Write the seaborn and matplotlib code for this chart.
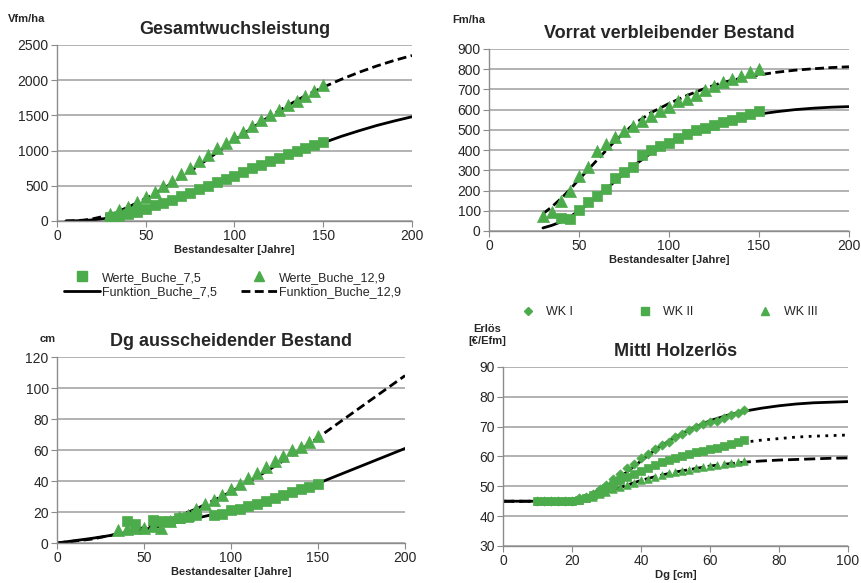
import seaborn as sns
import matplotlib.pyplot as plt
import matplotlib.lines as mlines
import pandas as pd
import numpy as np

# ---- data ----
alter_pts = list(range(30, 155, 5))

# Gesamtwuchsleistung [Vfm/ha]
gwl_75 = [50, 70, 100, 130, 170, 220, 260, 300, 350, 400, 450, 500, 550,
          600, 640, 700, 750, 800, 850, 900, 950, 990, 1040, 1080, 1120]
gwl_129 = [100, 150, 200, 270, 340, 410, 490, 570, 660, 750, 850, 940, 1030,
           1110, 1190, 1270, 1350, 1430, 1500, 1570, 1640, 1710, 1780, 1850, 1930]
gwl_f_alter = [5, 10, 15, 20, 25, 30, 35, 40, 50, 60, 70, 80, 90, 100, 110,
               120, 130, 140, 150, 160, 170, 180, 190, 200]
gwl_f_75 = [0, 2, 7, 15, 28, 45, 68, 95, 165, 250, 340, 440, 540, 640, 740,
            840, 930, 1020, 1110, 1200, 1280, 1355, 1420, 1480]
gwl_f_129 = [0, 3, 12, 30, 58, 95, 142, 195, 320, 460, 620, 790, 970, 1150,
             1320, 1490, 1640, 1780, 1900, 2010, 2110, 2200, 2280, 2350]

# Vorrat verbleibender Bestand [Fm/ha]
vor_75_alter = list(range(40, 155, 5))
vor_75 = [65, 60, 104, 142, 173, 206, 264, 294, 315, 376, 398, 418, 437, 459,
          480, 497, 508, 525, 538, 550, 563, 578, 594]
vor_129 = [74, 96, 149, 200, 274, 314, 396, 431, 467, 492, 520, 546, 570, 591,
           613, 641, 655, 674, 697, 715, 735, 751, 768, 784, 801]
vor_f_alter = [30, 35, 40, 45, 50, 55, 60, 70, 80, 90, 100, 110, 120, 130,
               140, 150, 160, 170, 180, 190, 200]
vor_f_75 = [15, 28, 45, 70, 100, 133, 170, 245, 320, 385, 435, 475, 510, 540,
            560, 578, 590, 600, 607, 612, 615]
vor_f_129 = [85, 120, 160, 205, 255, 302, 350, 445, 525, 585, 630, 670, 705,
             735, 755, 772, 785, 795, 802, 808, 812]

# Dg ausscheidender Bestand [cm]
dg_75_alter = [40, 45, 55, 60, 65, 70, 75, 80, 90, 95, 100, 105, 110, 115,
               120, 125, 130, 135, 140, 145, 150]
dg_75 = [14, 12, 15, 14.5, 14, 16, 17, 18, 18, 19, 21, 22, 24, 25, 27, 29, 31,
         33, 35, 36, 38]
dg_129_alter = list(range(35, 155, 5))
dg_129 = [8.6, 9, 9.5, 10, 11, 10, 14, 17, 18, 22, 25, 28, 31, 35, 38, 42, 45,
          49, 53, 56, 60, 62, 65, 69]
dg_f_alter = [0, 20, 40, 60, 80, 100, 120, 140, 150, 160, 170, 180, 190, 200]
dg_f_75 = [0, 3, 6.5, 11, 16, 21, 28, 35, 38.5, 43, 47.5, 52, 56.5, 61]
dg_f_129 = [0, 2.5, 7, 13, 22, 33, 46, 60, 68, 76, 84, 92, 100, 108]

# Mittl Holzerlös [EUR/Efm]
dg_pts = list(range(10, 72, 2))
wk1 = [45, 45, 45, 45, 45, 45, 46, 46.5, 47.5, 49, 50.5, 52.5, 54, 56, 57.5,
       59.5, 61, 62.5, 64, 65, 66.5, 67.5, 69, 70, 71, 71.5, 72, 73, 74, 74.5, 75.5]
wk2 = [45, 45, 45, 45, 45, 45, 45.5, 46, 47, 48, 49.5, 50.5, 52, 53, 54, 55,
       56, 57, 58, 58.8, 59.5, 60, 60.8, 61.5, 62, 62.5, 63, 63.5, 64.2, 64.8, 65.5]
wk3 = [45, 45, 45, 45, 45, 45, 45.3, 46, 46.5, 47.3, 48, 49, 49.8, 50.5, 51.2,
       52, 52.5, 53.2, 53.8, 54.3, 54.8, 55.2, 55.6, 56, 56.4, 56.8, 57.1, 57.4,
       57.7, 58, 58.4]
erl_f_dg = [0, 10, 15, 20, 25, 30, 35, 40, 45, 50, 55, 60, 65, 70, 75, 80, 85,
            90, 95, 100]
erl_f_1 = [45, 45, 45.1, 45.5, 47, 50, 54, 58.5, 63, 66.5, 69.5, 72, 73.8,
           75.2, 76.2, 77, 77.6, 78, 78.2, 78.4]
erl_f_2 = [45, 45, 45.1, 45.3, 46.5, 49, 52, 55, 57.5, 59.5, 61, 62.5, 63.7,
           64.8, 65.5, 66, 66.5, 66.8, 67, 67.2]
erl_f_3 = [45, 45, 45.05, 45.2, 46, 48, 50, 52, 53.5, 54.8, 55.8, 56.8, 57.5,
           58.1, 58.5, 58.8, 59, 59.2, 59.4, 59.5]

# ---- style ----
sns.set_style("white")
plt.rcParams['font.family'] = ['Liberation Sans', 'DejaVu Sans']
green = "#4cab4a"
grid_c = "#a6a6a6"
spine_c = "#8c8c8c"
dash = (3.2, 1.6)

fig = plt.figure(figsize=(8.61, 5.83), dpi=100)
ax1 = fig.add_axes([0.0662, 0.621, 0.4123, 0.3019])
ax2 = fig.add_axes([0.5679, 0.6038, 0.4181, 0.3122])
ax3 = fig.add_axes([0.0662, 0.0686, 0.4042, 0.319])
ax4 = fig.add_axes([0.5842, 0.0635, 0.4007, 0.307])


def style_axis(ax, xlim, ylim, yticks, xticks, title, xlabel):
    ax.set_xlim(*xlim)
    ax.set_ylim(*ylim)
    ax.set_yticks(yticks)
    ax.set_xticks(xticks)
    ax.yaxis.grid(True, color=grid_c, lw=1.2)
    ax.xaxis.grid(False)
    ax.set_axisbelow(True)
    for s in ["top", "right"]:
        ax.spines[s].set_visible(False)
    for s in ["left", "bottom"]:
        ax.spines[s].set_color(spine_c)
        ax.spines[s].set_linewidth(1.0)
    ax.tick_params(axis="both", length=4, color=spine_c, labelsize=10,
                   direction="out", left=True, bottom=True, pad=2)
    ax.set_title(title, fontsize=13, fontweight="bold", pad=8)
    ax.set_xlabel(xlabel, fontsize=8, fontweight="bold", labelpad=1)
    ax.set_ylabel("")


def curve(ax, x, y, **kw):
    sns.lineplot(x=x, y=y, ax=ax, color="black", lw=2, legend=False, **kw)


def points(ax, x, y, marker, size):
    sns.scatterplot(x=x, y=y, ax=ax, color=green, marker=marker, s=size,
                    edgecolor=green, linewidth=0.5, zorder=3, legend=False)


# Panel 1
points(ax1, alter_pts, gwl_75, "s", 62)
points(ax1, alter_pts, gwl_129, "^", 75)
curve(ax1, gwl_f_alter, gwl_f_75)
curve(ax1, gwl_f_alter, gwl_f_129, dashes=dash)
style_axis(ax1, (0, 200), (0, 2500), range(0, 2501, 500), range(0, 201, 50),
           "Gesamtwuchsleistung", "Bestandesalter [Jahre]")
fig.text(0.009, 0.968, "Vfm/ha", fontsize=8, fontweight="bold", va="center")

h_sq = mlines.Line2D([], [], color=green, marker="s", ls="none", ms=7)
h_tri = mlines.Line2D([], [], color=green, marker="^", ls="none", ms=7.5)
h_l1 = mlines.Line2D([], [], color="black", lw=2)
h_l2 = mlines.Line2D([], [], color="black", lw=2, dashes=dash)
fig.legend([h_sq, h_l1, h_tri, h_l2],
           ["Werte_Buche_7,5", "Funktion_Buche_7,5",
            "Werte_Buche_12,9", "Funktion_Buche_12,9"],
           ncol=2, loc="center", bbox_to_anchor=(0.270, 0.511), frameon=False,
           fontsize=9, handlelength=2.9, handletextpad=0.15, columnspacing=1.9,
           labelspacing=0.2, borderpad=0)

# Panel 2
points(ax2, vor_75_alter, vor_75, "s", 62)
points(ax2, alter_pts, vor_129, "^", 75)
curve(ax2, vor_f_alter, vor_f_75)
curve(ax2, vor_f_alter, vor_f_129, dashes=dash)
style_axis(ax2, (0, 200), (0, 900), range(0, 901, 100), range(0, 201, 50),
           "Vorrat verbleibender Bestand", "Bestandesalter [Jahre]")
fig.text(0.525, 0.965, "Fm/ha", fontsize=8, fontweight="bold", va="center")

# Panel 3
points(ax3, dg_75_alter, dg_75, "s", 62)
points(ax3, dg_129_alter, dg_129, "^", 75)
curve(ax3, dg_f_alter, dg_f_75)
curve(ax3, dg_f_alter, dg_f_129, dashes=dash)
style_axis(ax3, (0, 200), (0, 120), range(0, 121, 20), range(0, 201, 50),
           "Dg ausscheidender Bestand", "Bestandesalter [Jahre]")
fig.text(0.046, 0.418, "cm", fontsize=8, fontweight="bold", va="center")

# Panel 4
points(ax4, dg_pts, wk1, "D", 22)
points(ax4, dg_pts, wk2, "s", 36)
points(ax4, dg_pts, wk3, "^", 30)
curve(ax4, erl_f_dg, erl_f_1)
curve(ax4, erl_f_dg, erl_f_2, dashes=(1, 2.0))
curve(ax4, erl_f_dg, erl_f_3, dashes=(4, 1.8))
style_axis(ax4, (0, 100), (30, 90), range(30, 91, 10), range(0, 101, 20),
           "Mittl Holzerlös", "Dg [cm]")
fig.text(0.566, 0.425, "Erlös\n[€/Efm]", fontsize=8, fontweight="bold",
         va="center", ha="center", linespacing=1.2)

h_d = mlines.Line2D([], [], color=green, marker="D", ls="none", ms=4.5)
h_s = mlines.Line2D([], [], color=green, marker="s", ls="none", ms=5.5)
h_t = mlines.Line2D([], [], color=green, marker="^", ls="none", ms=6)
fig.legend([h_d, h_s, h_t], ["WK I", "WK II", "WK III"], ncol=3, loc="center",
           bbox_to_anchor=(0.773, 0.465), frameon=False, fontsize=9,
           handlelength=2.2, handletextpad=0.4, columnspacing=4.6, borderpad=0)

fig.savefig("out.png", dpi=100)
plt.close(fig)
